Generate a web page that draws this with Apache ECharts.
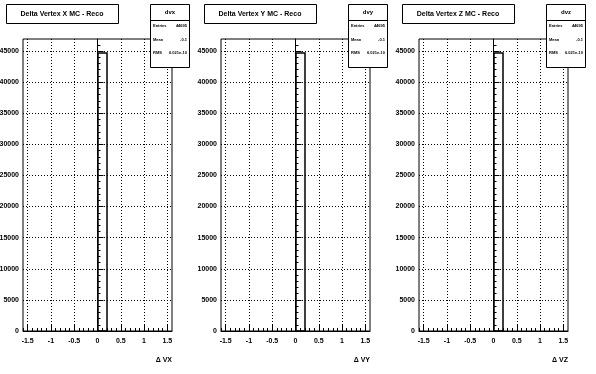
<!DOCTYPE html>
<html>
<head>
<meta charset="utf-8">
<script src="https://cdn.jsdelivr.net/npm/echarts@6/dist/echarts.min.js"></script>
<style>
html,body{margin:0;padding:0;background:#fff;}
#c{width:596px;height:374px;}
</style>
</head>
<body>
<div id="c"></div>
<script>
// ---- data ----
const titles = ['Delta Vertex X MC - Reco', 'Delta Vertex Y MC - Reco', 'Delta Vertex Z MC - Reco'];
const statNames = ['dvx', 'dvy', 'dvz'];
const axisTitles = ['\u0394 VX', '\u0394 VY', '\u0394 VZ'];
const statEntries = ['44695', '44695', '44695'];
const statMean = ['-0.1', '-0.1', '-0.1'];
const statRMS = ['6.021e-10', '6.021e-10', '6.021e-10'];
const binLow  = [-1.6,-1.4,-1.2,-1.0,-0.8,-0.6,-0.4,-0.2,0.0,0.2,0.4,0.6,0.8,1.0,1.2,1.4];
const binHigh = [-1.4,-1.2,-1.0,-0.8,-0.6,-0.4,-0.2,0.0,0.2,0.4,0.6,0.8,1.0,1.2,1.4,1.6];
const countsX = [0,0,0,0,0,0,0,0,44695,0,0,0,0,0,0,0];
const countsY = [0,0,0,0,0,0,0,0,44695,0,0,0,0,0,0,0];
const countsZ = [0,0,0,0,0,0,0,0,44695,0,0,0,0,0,0,0];
const xMajor = [-1.5,-1,-0.5,0,0.5,1,1.5];
const xMinor = [-1.6,-1.5,-1.4,-1.3,-1.2,-1.1,-1.0,-0.9,-0.8,-0.7,-0.6,-0.5,-0.4,-0.3,-0.2,-0.1,0,
                0.1,0.2,0.3,0.4,0.5,0.6,0.7,0.8,0.9,1.0,1.1,1.2,1.3,1.4,1.5];
const yMajor = [0,5000,10000,15000,20000,25000,30000,35000,40000,45000];
const yMinor = [0,1000,2000,3000,4000,5000,6000,7000,8000,9000,10000,11000,12000,13000,14000,15000,
                16000,17000,18000,19000,20000,21000,22000,23000,24000,25000,26000,27000,28000,29000,30000,
                31000,32000,33000,34000,35000,36000,37000,38000,39000,40000,41000,42000,43000,44000,45000,46000];
const xMin = -1.6, xMax = 1.6, yMax = 46930;
const allCounts = [countsX, countsY, countsZ];

// ---- build ----
const FONT = 'Liberation Sans';
const grids = [], xAxes = [], yAxes = [], series = [], graphics = [];
const offsets = [0, 198, 396];
for (let i = 0; i < 3; i++) {
  const ox = offsets[i];
  grids.push({left: 23 + ox, top: 39, width: 149, height: 292, show: true, containLabel: false,
    outerBoundsMode: 'none',
    borderColor: '#000', borderWidth: 1, backgroundColor: 'transparent'});
  xAxes.push({type: 'value', gridIndex: i, min: xMin, max: xMax, position: 'bottom',
    axisLine: {show: true, lineStyle: {color: '#000', width: 1}},
    axisTick: {show: true, inside: true, length: 3, customValues: xMinor, lineStyle: {color: '#000'}},
    axisLabel: {show: true, customValues: xMajor, margin: 7, color: '#000',
      fontFamily: FONT, fontWeight: 'bold', fontSize: 7, formatter: v => String(v)},
    splitLine: {show: false}});
  xAxes.push({type: 'value', gridIndex: i, min: xMin, max: xMax, position: 'bottom',
    axisLine: {show: false},
    axisTick: {show: true, inside: true, length: 6, customValues: xMajor, lineStyle: {color: '#000'}},
    axisLabel: {show: false}, splitLine: {show: false}});
  yAxes.push({type: 'value', gridIndex: i, min: 0, max: yMax, position: 'left',
    axisLine: {show: true, lineStyle: {color: '#000', width: 1}},
    axisTick: {show: true, inside: true, length: 3, customValues: yMinor, lineStyle: {color: '#000'}},
    axisLabel: {show: true, customValues: yMajor, margin: 4, color: '#000',
      fontFamily: FONT, fontWeight: 'bold', fontSize: 7, formatter: v => String(v)},
    splitLine: {show: false}});
  yAxes.push({type: 'value', gridIndex: i, min: 0, max: yMax, position: 'left', offset: 0,
    axisLine: {show: false},
    axisTick: {show: true, inside: true, length: 6, customValues: yMajor, lineStyle: {color: '#000'}},
    axisLabel: {show: false}, splitLine: {show: false}});

  const ml = [];
  xMajor.forEach(v => ml.push({xAxis: v}));
  yMajor.slice(1).forEach(v => ml.push({yAxis: v}));
  series.push({type: 'line', xAxisIndex: 2 * i, yAxisIndex: 2 * i, data: [], silent: true,
    markLine: {silent: true, symbol: 'none', animation: false, label: {show: false},
      lineStyle: {color: '#000', width: 1, type: [1, 2]}, data: ml}});

  const counts = allCounts[i];
  const data = binLow.map((lo, k) => [lo, binHigh[k], counts[k]]);
  series.push({type: 'custom', xAxisIndex: 2 * i, yAxisIndex: 2 * i, data: data, silent: true,
    animation: false, z: 5,
    renderItem: function (params, api) {
      const y = api.value(2);
      if (!y) return null;
      const p0 = api.coord([api.value(0), 0]);
      const p1 = api.coord([api.value(1), y]);
      return {type: 'rect', shape: {x: Math.round(p0[0]), y: Math.round(p1[1]),
        width: Math.round(p1[0] - p0[0]), height: Math.round(p0[1] - p1[1])},
        style: {fill: 'none', stroke: '#000', lineWidth: 1.5}};
    }});

  graphics.push({type: 'rect', shape: {x: 6.5 + ox, y: 4.5, width: 112, height: 19},
    style: {fill: '#fff', stroke: '#000', lineWidth: 1}, z: 10});
  graphics.push({type: 'text', x: 62 + ox, y: 14, z: 11,
    style: {text: titles[i], textAlign: 'center', textVerticalAlign: 'middle',
      font: 'bold 7px ' + FONT, fill: '#000'}});
  const sx = 150 + ox;
  graphics.push({type: 'rect', shape: {x: sx + 0.5, y: 4.5, width: 39, height: 63},
    style: {fill: '#fff', stroke: '#000', lineWidth: 1}, z: 10});
  graphics.push({type: 'line', shape: {x1: sx, y1: 20.5, x2: sx + 39, y2: 20.5},
    style: {stroke: '#000', lineWidth: 1}, z: 11});
  graphics.push({type: 'text', x: sx + 20, y: 12.5, z: 11,
    style: {text: statNames[i], textAlign: 'center', textVerticalAlign: 'middle',
      font: 'bold 6px ' + FONT, fill: '#000'}});
  const rows = [['Entries', statEntries[i], 26], ['Mean', statMean[i], 40], ['RMS', statRMS[i], 53]];
  rows.forEach(r => {
    graphics.push({type: 'text', x: sx + 3, y: r[2], z: 11,
      style: {text: r[0], textAlign: 'left', textVerticalAlign: 'middle',
        font: 'bold 4px ' + FONT, fill: '#000'}});
    graphics.push({type: 'text', x: sx + 37, y: r[2], z: 11,
      style: {text: r[1], textAlign: 'right', textVerticalAlign: 'middle',
        font: 'bold 4px ' + FONT, fill: '#000'}});
  });
  graphics.push({type: 'text', x: 172 + ox, y: 360, z: 11,
    style: {text: axisTitles[i], textAlign: 'right', textVerticalAlign: 'middle',
      font: 'bold 7px ' + FONT, fill: '#000'}});
}

const chart = echarts.init(document.getElementById('c'), null, {renderer: 'canvas'});
chart.setOption({
  animation: false,
  backgroundColor: '#fff',
  grid: grids, xAxis: xAxes, yAxis: yAxes, series: series, graphic: graphics
});
</script>
</body>
</html>
